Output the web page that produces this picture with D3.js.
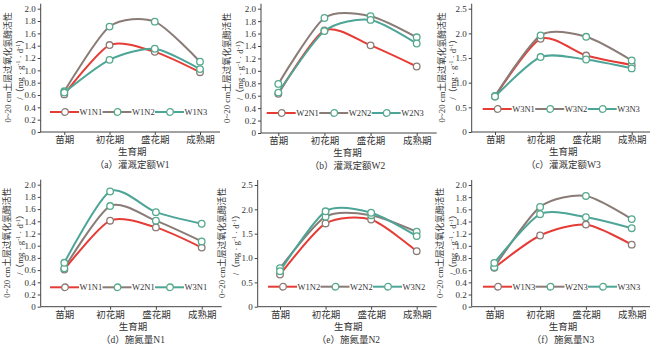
<!DOCTYPE html>
<html>
<head>
<meta charset="utf-8">
<script src="https://cdn.jsdelivr.net/npm/d3@7"></script>
<style>
  body { margin: 0; background: #fff; }
  text { font-family: "Liberation Serif", "Noto Sans CJK SC", serif; fill: #333; }
</style>
</head>
<body>
<svg width="650" height="346"></svg>
<script>
var stages = ["苗期", "初花期", "盛花期", "成熟期"];

// catalase activity, mg/(g*d), per treatment
var W1N1 = [0.61, 1.41, 1.30, 0.97];
var W1N2 = [0.66, 1.71, 1.79, 1.14];
var W1N3 = [0.64, 1.17, 1.35, 1.02];
var W2N1 = [0.63, 1.65, 1.41, 1.07];
var W2N2 = [0.79, 1.85, 1.88, 1.54];
var W2N3 = [0.65, 1.64, 1.82, 1.44];
var W3N1 = [0.72, 1.89, 1.55, 1.36];
var W3N2 = [0.73, 1.96, 1.93, 1.45];
var W3N3 = [0.72, 1.52, 1.47, 1.29];

var ticks20 = [0, 0.2, 0.4, 0.6, 0.8, 1.0, 1.2, 1.4, 1.6, 1.8, 2.0];
var ticks25 = [0, 0.5, 1.0, 1.5, 2.0, 2.5];

var captions = ["（a）灌溉定额W1", "（b）灌溉定额W2", "（c）灌溉定额W3",
                "（d）施氮量N1", "（e）施氮量N2", "（f）施氮量N3"];
var seriesNames = [["W1N1", "W1N2", "W1N3"], ["W2N1", "W2N2", "W2N3"], ["W3N1", "W3N2", "W3N3"],
                   ["W1N1", "W2N1", "W3N1"], ["W1N2", "W2N2", "W3N2"], ["W1N3", "W2N3", "W3N3"]];
var seriesVals = [[W1N1, W1N2, W1N3], [W2N1, W2N2, W2N3], [W3N1, W3N2, W3N3],
                  [W1N1, W2N1, W3N1], [W1N2, W2N2, W3N2], [W1N3, W2N3, W3N3]];
var yTicks = [ticks20, ticks20, ticks25, ticks20, ticks25, ticks20];

var colors = ["#e63c36", "#8a7b77", "#4da597"];
var markerStroke = ["#8a7b77", "#55a98d", "#55a98d"];

// layout of each small chart
var layout = [
  { ax: 40.7,  cx: [64.3, 200],   top: 8.7,   bot: 132,   legX: 50,    legY: 112,   lab: [8.3, 20] },
  { ax: 261,   cx: [278.3, 416.7], top: 8.7,  bot: 133,   legX: 266.7, legY: 113,   lab: [226.7, 240] },
  { ax: 471.7, cx: [495, 631.7],  top: 8.7,   bot: 132,   legX: 482.7, legY: 109,   lab: [441.7, 453.3] },
  { ax: 40.7,  cx: [64.3, 201.7], top: 184.7, bot: 306.7, legX: 50,    legY: 287.3, lab: [7, 19.5] },
  { ax: 257.7, cx: [280, 416.7],  top: 185,   bot: 306.7, legX: 268,   legY: 286.7, lab: [222, 236] },
  { ax: 471.7, cx: [494.3, 631.7], top: 185,  bot: 306.7, legX: 483,   legY: 286.7, lab: [440, 453] }
];

var svg = d3.select("svg");
var fmt = function(d) { return d === 0 ? "0" : d3.format(".1f")(d); };

layout.forEach(function(L, p) {
  var g = svg.append("g");
  var tks = yTicks[p];

  var x = d3.scalePoint().domain(stages).range(L.cx);
  var y = d3.scaleLinear().domain([0, tks[tks.length - 1]]).range([L.bot, L.top]);

  // axes
  var yAxis = g.append("g")
      .attr("transform", "translate(" + L.ax + ",0)")
      .call(d3.axisLeft(y).tickValues(tks).tickFormat(fmt).tickSize(3).tickSizeOuter(0).tickPadding(2));
  yAxis.select(".domain").remove();
  yAxis.selectAll("line").attr("stroke", "#444");
  yAxis.selectAll("text").style("font-size", "9px").attr("fill", "#333");

  var xAxis = g.append("g")
      .attr("transform", "translate(0," + L.bot + ")")
      .call(d3.axisBottom(x).tickSize(3).tickPadding(1.5));
  xAxis.select(".domain").remove();
  xAxis.selectAll("line").attr("stroke", "#444");
  xAxis.selectAll("text").style("font-size", "9.5px").attr("fill", "#333");

  g.append("line")
      .attr("x1", L.ax).attr("x2", L.ax)
      .attr("y1", L.bot).attr("y2", L.top - 5)
      .attr("stroke", "#444").attr("stroke-width", 1);
  g.append("line")
      .attr("x1", L.ax).attr("x2", L.cx[1] + 20)
      .attr("y1", L.bot).attr("y2", L.bot)
      .attr("stroke", "#444").attr("stroke-width", 1);

  // curves
  var line = d3.line()
      .x(function(d, i) { return x(stages[i]); })
      .y(function(d) { return y(d); })
      .curve(d3.curveCardinal.tension(0.25));

  seriesVals[p].forEach(function(vals, s) {
    g.append("path")
        .attr("d", line(vals))
        .attr("fill", "none")
        .attr("stroke", colors[s])
        .attr("stroke-width", 2);
  });
  seriesVals[p].forEach(function(vals, s) {
    g.selectAll(null)
        .data(vals)
        .enter().append("circle")
        .attr("cx", function(d, i) { return x(stages[i]); })
        .attr("cy", function(d) { return y(d); })
        .attr("r", 3.3)
        .attr("fill", "#fff")
        .attr("stroke", markerStroke[s])
        .attr("stroke-width", 1.3);
  });

  // legend
  var leg = g.selectAll(".leg")
      .data(seriesNames[p])
      .enter().append("g")
      .attr("class", "leg")
      .attr("transform", function(d, i) { return "translate(" + (L.legX + i * 52.5) + "," + L.legY + ")"; });
  leg.append("line")
      .attr("x1", 0).attr("x2", 29)
      .attr("stroke", function(d, i) { return colors[i]; })
      .attr("stroke-width", 2);
  leg.append("circle")
      .attr("cx", 15).attr("r", 3.3)
      .attr("fill", "#fff")
      .attr("stroke", function(d, i) { return markerStroke[i]; })
      .attr("stroke-width", 1.3);
  leg.append("text")
      .attr("x", 29.5).attr("y", 3)
      .style("font-size", "8.5px")
      .text(function(d) { return d; });

  // titles
  var mid = (L.cx[0] + L.cx[1]) / 2;
  g.append("text")
      .attr("x", mid).attr("y", L.bot + 23)
      .attr("text-anchor", "middle")
      .style("font-size", "9.5px")
      .text("生育期");
  g.append("text")
      .attr("x", mid).attr("y", L.bot + 36)
      .attr("text-anchor", "middle")
      .style("font-size", "9.5px")
      .text(captions[p]);

  var ymid = (L.top + L.bot) / 2 - 3;
  g.append("text")
      .attr("transform", "translate(" + (L.lab[0] + 3) + "," + ymid + ") rotate(-90)")
      .attr("text-anchor", "middle")
      .style("font-size", "8.8px")
      .text("0~20 cm土层过氧化氢酶活性");
  var unit = g.append("text")
      .attr("transform", "translate(" + (L.lab[1] + 3) + "," + ymid + ") rotate(-90)")
      .attr("text-anchor", "middle")
      .style("font-size", "8.8px");
  unit.append("tspan").text("/（mg · g");
  unit.append("tspan").attr("dy", -3).style("font-size", "6px").text("-1");
  unit.append("tspan").attr("dy", 3).text(" · d");
  unit.append("tspan").attr("dy", -3).style("font-size", "6px").text("-1");
  unit.append("tspan").attr("dy", 3).text("）");
});
</script>
</body>
</html>
